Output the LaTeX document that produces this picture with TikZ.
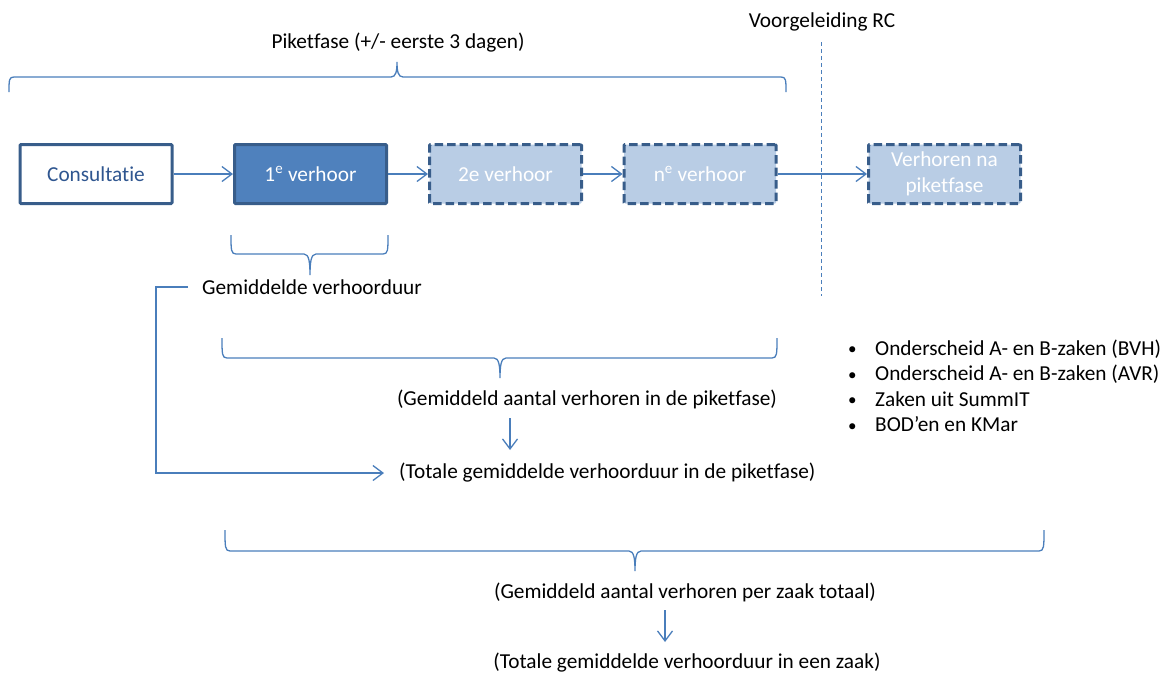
\documentclass[tikz,border=0pt]{standalone}
\usepackage{fontspec}
\setmainfont{Carlito}[Ligatures={NoCommon,NoContextual}]
\usetikzlibrary{arrows.meta}
\definecolor{lineblue}{HTML}{4A7EBB}
\definecolor{boxborder}{HTML}{385D8A}
\definecolor{boxdark}{HTML}{4F81BD}
\definecolor{boxlight}{HTML}{B9CDE5}
\definecolor{consText}{HTML}{2F5690}
\newcommand\mybrace[6]{% x1,x2,xt,yE,yH,yT
  \draw[bracestyle] (#1,#4) .. controls +(0,{0.8*(#5-#4)}) and +(-5,0) .. ({#1+5},#5)
    -- ({#3-6},#5) .. controls +(5,0) and +(0,{-0.6*(#6-#5)}) .. (#3,#6)
    .. controls +(0,{-0.6*(#6-#5)}) and +(-5,0) .. ({#3+6},#5)
    -- ({#2-5},#5) .. controls +(5,0) and +(0,{0.8*(#5-#4)}) .. (#2,#4);}
\newcommand\mybullet{\makebox[27pt][l]{\raisebox{0.5pt}{\scalebox{0.8}{•}}}}
\begin{document}
\begin{tikzpicture}[x=1pt,y=-1pt,
  every node/.style={font=\fontsize{21.3pt}{25.5pt}\selectfont, inner sep=0pt},
  bracestyle/.style={draw=lineblue, line width=1.3pt},
  conn/.style={draw=lineblue, line width=1.3pt, -{Straight Barb[length=10pt,width=15pt,line width=1.3pt]}},
  basebox/.style={rectangle, rounded corners=1pt, line width=3pt, draw=boxborder,
    minimum width=152pt, minimum height=59pt, align=center},
  solidbox/.style={basebox, fill=white, text=consText},
  darkbox/.style={basebox, fill=boxdark, text=white},
  lightbox/.style={basebox, fill=boxlight, text=white, dash pattern=on 8.5pt off 4pt},
  plain/.style={text=black}]
\useasboundingbox (0,0) rectangle (1165,675);

% titles
\node[plain] (vrc) at (822,22) {Voorgeleiding RC};
\node[plain] (pik) at (398,43) {Piketfase (+/- eerste 3 dagen)};

% phase separator
\coordinate (dtop) at (821,42);
\coordinate (dbot) at (821,296);
\draw[lineblue, line width=1pt, dash pattern=on 4pt off 3pt] (dtop) -- (dbot);

% boxes
\node[solidbox] (cons) at (96,174) {Consultatie};
\node[darkbox] (v1) at (310.5,174) {1\textsuperscript{e} verhoor};
\node[lightbox] (v2) at (505.5,174) {2e verhoor};
\node[lightbox] (vn) at (700,174) {n\textsuperscript{e} verhoor};
\node[lightbox] (vna) at (944.5,174) {Verhoren na\\piketfase};

\draw[conn] (cons) -- (v1);
\draw[conn] (v1) -- (v2);
\draw[conn] (v2) -- (vn);
\draw[conn] (vn) -- (vna);

% braces
\mybrace{9}{786}{397}{92}{77}{62}
\mybrace{231}{388}{310}{235}{254}{275}
\mybrace{222}{777}{500}{338}{358}{378}
\mybrace{225}{1044}{635}{530}{551}{571}

% texts
\node[plain, anchor=west] (gem) at (202,287) {Gemiddelde verhoorduur};
\node[plain] (t1) at (587,399) {(Gemiddeld aantal verhoren in de piketfase)};
\node[plain, anchor=west] (t2) at (399,473) {(Totale gemiddelde verhoorduur in de piketfase)};
\node[plain] (t3) at (685,592) {(Gemiddeld aantal verhoren per zaak totaal)};
\node[plain] (t4) at (687,663) {(Totale gemiddelde verhoorduur in een zaak)};

\node[plain, anchor=west, align=left] (bul) at (848,386) {%
\mybullet Onderscheid A- en B-zaken (BVH)\\
\mybullet Onderscheid A- en B-zaken (AVR)\\
\mybullet Zaken uit SummIT\\
\mybullet BOD’en en KMar};

% connectors
\coordinate (elbow) at (156,287);
\draw[conn] ([xshift=-14pt]gem.west) -- (elbow) |- ([xshift=-15pt]t2.west);
\coordinate (a1s) at (510,418);
\coordinate (a1e) at (510,450);
\draw[conn] (a1s) -- (a1e);
\coordinate (a2s) at (665,610);
\coordinate (a2e) at (665,642);
\draw[conn] (a2s) -- (a2e);
\end{tikzpicture}
\end{document}
